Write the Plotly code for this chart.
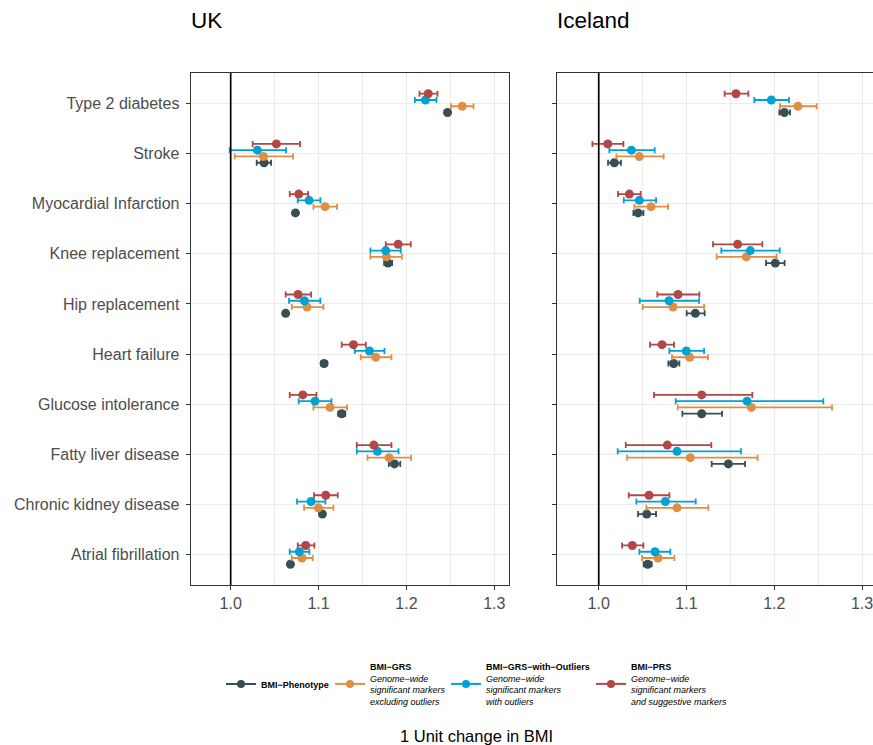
import plotly.graph_objects as go

categories = ["Type 2 diabetes", "Stroke", "Myocardial Infarction", "Knee replacement",
              "Hip replacement", "Heart failure", "Glucose intolerance", "Fatty liver disease",
              "Chronic kidney disease", "Atrial fibrillation"]

series_names = ["BMI-Phenotype", "BMI-GRS", "BMI-GRS-with-Outliers", "BMI-PRS"]
legend_labels = [
    "<b>BMI\u2212Phenotype</b>",
    "<b>BMI\u2212GRS</b><br><i>Genome\u2212wide</i><br><i>significant markers</i><br><i>excluding outliers</i>",
    "<b>BMI\u2212GRS\u2212with\u2212Outliers</b><br><i>Genome\u2212wide</i><br><i>significant markers</i><br><i>with outliers</i>",
    "<b>BMI\u2212PRS</b><br><i>Genome\u2212wide</i><br><i>significant markers</i><br><i>and suggestive markers</i>",
]
colors = ["#374E55", "#DF8F44", "#00A1D5", "#B24745"]
offsets = [-0.1875, -0.0625, 0.0625, 0.1875]

# UK
uk_est = {
    "BMI-Phenotype": [1.2468, 1.0380, 1.0737, 1.1792, 1.0626, 1.1063, 1.1264, 1.1864, 1.1044, 1.0680],
    "BMI-GRS": [1.2635, 1.0372, 1.1074, 1.1773, 1.0869, 1.1651, 1.1131, 1.1803, 1.0998, 1.0812],
    "BMI-GRS-with-Outliers": [1.2217, 1.0304, 1.0892, 1.1765, 1.0839, 1.1579, 1.0960, 1.1670, 1.0915, 1.0782],
    "BMI-PRS": [1.2248, 1.0520, 1.0775, 1.1906, 1.0767, 1.1397, 1.0820, 1.1629, 1.1082, 1.0854],
}
uk_lo = {
    "BMI-Phenotype": [1.2450, 1.0296, 1.0722, 1.1747, 1.0611, 1.1033, 1.1224, 1.1800, 1.1025, 1.0665],
    "BMI-GRS": [1.2506, 1.0046, 1.0942, 1.1590, 1.0695, 1.1480, 1.0942, 1.1557, 1.0835, 1.0695],
    "BMI-GRS-with-Outliers": [1.2096, 0.9989, 1.0763, 1.1590, 1.0664, 1.1412, 1.0774, 1.1435, 1.0755, 1.0672],
    "BMI-PRS": [1.2149, 1.0250, 1.0672, 1.1765, 1.0626, 1.1264, 1.0672, 1.1435, 1.0949, 1.0763],
}
uk_hi = {
    "BMI-Phenotype": [1.2486, 1.0460, 1.0752, 1.1837, 1.0641, 1.1093, 1.1304, 1.1930, 1.1063, 1.0695],
    "BMI-GRS": [1.2764, 1.0710, 1.1211, 1.1948, 1.1055, 1.1830, 1.1325, 1.2054, 1.1169, 1.0934],
    "BMI-GRS-with-Outliers": [1.2342, 1.0630, 1.1021, 1.1936, 1.1021, 1.1750, 1.1147, 1.1910, 1.1078, 1.0896],
    "BMI-PRS": [1.2354, 1.0790, 1.0881, 1.2050, 1.0915, 1.1538, 1.0976, 1.1830, 1.1219, 1.0953],
}

# Iceland
is_est = {
    "BMI-Phenotype": [1.2115, 1.0178, 1.0448, 1.2012, 1.1101, 1.0854, 1.1173, 1.1477, 1.0547, 1.0558],
    "BMI-GRS": [1.2270, 1.0463, 1.0596, 1.1682, 1.0847, 1.1036, 1.1739, 1.1044, 1.0892, 1.0676],
    "BMI-GRS-with-Outliers": [1.1967, 1.0372, 1.0463, 1.1727, 1.0801, 1.0998, 1.1690, 1.0892, 1.0759, 1.0642],
    "BMI-PRS": [1.1564, 1.0103, 1.0349, 1.1583, 1.0904, 1.0721, 1.1173, 1.0782, 1.0573, 1.0383],
}
is_lo = {
    "BMI-Phenotype": [1.2058, 1.0106, 1.0395, 1.1906, 1.1002, 1.0793, 1.0953, 1.1287, 1.0448, 1.0513],
    "BMI-GRS": [1.2065, 1.0201, 1.0406, 1.1344, 1.0501, 1.0835, 1.0900, 1.0323, 1.0543, 1.0494],
    "BMI-GRS-with-Outliers": [1.1773, 1.0121, 1.0285, 1.1397, 1.0467, 1.0805, 1.0877, 1.0216, 1.0429, 1.0463],
    "BMI-PRS": [1.1435, 0.9928, 1.0220, 1.1302, 1.0668, 1.0585, 1.0630, 1.0308, 1.0342, 1.0266],
}
is_hi = {
    "BMI-Phenotype": [1.2180, 1.0254, 1.0509, 1.2118, 1.1207, 1.0919, 1.1405, 1.1667, 1.0653, 1.0604],
    "BMI-GRS": [1.2483, 1.0740, 1.0790, 1.2027, 1.1200, 1.1245, 1.2658, 1.1811, 1.1249, 1.0862],
    "BMI-GRS-with-Outliers": [1.2168, 1.0638, 1.0653, 1.2062, 1.1143, 1.1200, 1.2559, 1.1621, 1.1105, 1.0816],
    "BMI-PRS": [1.1705, 1.0281, 1.0478, 1.1864, 1.1147, 1.0858, 1.1750, 1.1283, 1.0805, 1.0509],
}

x_ticks = [1.0, 1.1, 1.2, 1.3]
x_tick_labels = ["1.0", "1.1", "1.2", "1.3"]

n = len(categories)
ybase = [n - i for i in range(n)]  # top category gets largest value

fig = go.Figure()

panels = [("x", "y", uk_est, uk_lo, uk_hi), ("x2", "y2", is_est, is_lo, is_hi)]
for xa, ya, est, lo, hi in panels:
    for k, s in enumerate(series_names):
        e = est[s]
        fig.add_trace(go.Scatter(
            x=e,
            y=[b + offsets[k] for b in ybase],
            mode="markers",
            marker=dict(color=colors[k], size=9),
            error_x=dict(type="data", symmetric=False,
                         array=[h - v for h, v in zip(hi[s], e)],
                         arrayminus=[v - l for v, l in zip(e, lo[s])],
                         color=colors[k], thickness=1.8, width=3),
            xaxis=xa, yaxis=ya, showlegend=False, hoverinfo="x+y",
        ))

W, H = 873, 745
ml, mr, mt, mb = 190, 0, 73, 160
pw = W - ml - mr
ph = H - mt - mb

def px_x(p):
    return (p - ml) / pw

def px_y(p):
    return (H - mb - p) / ph

# legend entries, one legend box per series so each can be placed
legend_names = ["legend", "legend2", "legend3", "legend4"]
legend_x = [221.0, 330.0, 446.0, 591.0]
legend_font = dict(family="Liberation Sans, Arial, sans-serif", size=9, color="black")
legend_layout = {}
for k, s in enumerate(series_names):
    fig.add_trace(go.Scatter(
        x=[None], y=[None], mode="lines+markers", name=legend_labels[k],
        line=dict(color=colors[k], width=2), marker=dict(color=colors[k], size=8),
        xaxis="x", yaxis="y", showlegend=True, legend=legend_names[k],
    ))
    legend_layout[legend_names[k]] = dict(
        orientation="h", x=px_x(legend_x[k]), xanchor="left", y=px_y(684), yanchor="middle",
        font=legend_font, valign="middle", itemwidth=30, bgcolor="rgba(0,0,0,0)")

grid = "#EBEBEB"
axcommon = dict(
    showgrid=True, gridcolor=grid, gridwidth=1.1,
    showline=True, linecolor="#333333", linewidth=1.1, mirror=True,
    ticks="outside", ticklen=4, tickcolor="#333333", tickwidth=1.1,
    zeroline=False,
    tickfont=dict(family="Liberation Sans, Arial, sans-serif", size=16, color="#4D4D4D"),
)
xcommon = dict(axcommon, tickvals=x_ticks, ticktext=x_tick_labels, ticklabeloverflow="allow",
               minor=dict(tickvals=[1.05, 1.15, 1.25], showgrid=True, gridcolor=grid, gridwidth=0.6, ticks=""))

fig.update_layout(
    width=W, height=H,
    margin=dict(l=ml, r=mr, t=mt, b=mb),
    paper_bgcolor="white", plot_bgcolor="white",
    font=dict(family="Liberation Sans, Arial, sans-serif", color="black"),
    xaxis=dict(xcommon, domain=[px_x(190.7), px_x(509.3)], range=[0.9545, 1.3171], anchor="y"),
    xaxis2=dict(xcommon, domain=[px_x(557.3), 1.0], range=[0.9528, 1.3125], anchor="y2"),
    yaxis=dict(axcommon, range=[0.4, n + 0.6], tickvals=ybase, ticktext=categories, anchor="x",
               ticklabelstandoff=3),
    yaxis2=dict(axcommon, range=[0.4, n + 0.6], tickvals=ybase, ticktext=categories,
                showticklabels=False, anchor="x2"),
    shapes=[
        dict(type="line", xref="x", yref="y domain", x0=1, x1=1, y0=0, y1=1,
             line=dict(color="black", width=1.7), layer="above"),
        dict(type="line", xref="x2", yref="y2 domain", x0=1, x1=1, y0=0, y1=1,
             line=dict(color="black", width=1.7), layer="above"),
    ],
    annotations=[
        dict(text="UK", xref="paper", yref="paper", x=px_x(188.5), y=px_y(20), xanchor="left",
             yanchor="middle", showarrow=False, font=dict(size=22.5, color="black")),
        dict(text="Iceland", xref="paper", yref="paper", x=px_x(555), y=px_y(20), xanchor="left",
             yanchor="middle", showarrow=False, font=dict(size=22.5, color="black")),
        dict(text="1 Unit change in BMI", xref="paper", yref="paper", x=px_x(476), y=px_y(736),
             xanchor="center", yanchor="middle", showarrow=False, font=dict(size=16.5, color="black")),
    ],
    **legend_layout,
)

fig.write_html("out.html", config={"displayModeBar": False},
               post_script="document.body.style.margin='0px';")
